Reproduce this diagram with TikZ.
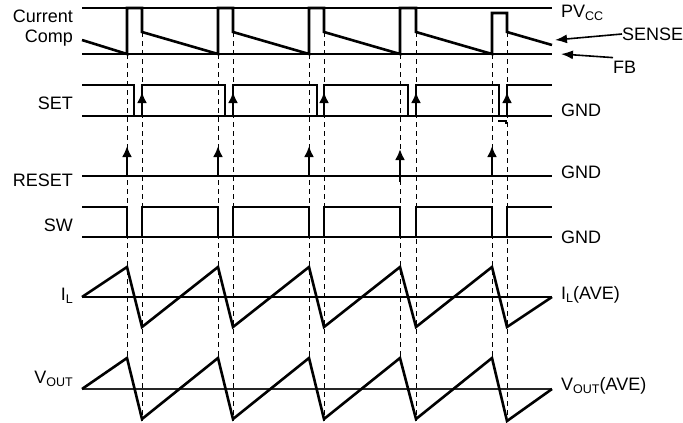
\documentclass[tikz,border=0pt]{standalone}
\usepackage{fontspec}
\setmainfont{Liberation Sans}
\usetikzlibrary{positioning, arrows.meta}
\newcommand{\lowsub}[1]{\raisebox{-0.3ex}{\fontsize{12.5}{12.5}\selectfont #1}}

\begin{document}
\begin{tikzpicture}[
  x=1pt, y=-1pt,
  sig/.style={line width=2.6pt, line join=miter},
  rail/.style={line width=1.2pt},
  edge/.style={line width=1pt, dash pattern=on 5pt off 4pt},
  lbl/.style={font=\fontsize{18}{20}\selectfont, inner sep=0pt},
  kick/.style={line width=2.6pt, -{Latex[length=11pt, width=10pt]}},
  pointer/.style={line width=1.6pt, -{Latex[length=12pt, width=9pt]}}
]
\useasboundingbox (0,0) rectangle (683,423);

% switching edges
\foreach \a/\b in {127/142, 218/233, 309/324, 400/416, 492/507} {
  \draw[edge] (\a,54) -- (\a,358);
  \draw[edge] (\b,32) -- (\b,421);
}

% rails
\draw[rail] (82,8) -- (552,8);
\draw[sig] (82,54) -- (552,54);
\draw[rail] (82,116) -- (552,116);
\draw[sig] (82,176) -- (552,176);
\draw[rail] (82,237) -- (552,237);
\draw[rail] (82,297) -- (552,297);
\draw[line width=1.8pt, black!85] (82,389) -- (552,389);

% current comparator
\draw[sig] (82,40) -- (127,54) -- (127,8) -- (142,8) -- (142,32)
  -- (218,54) -- (218,8) -- (233,8) -- (233,32)
  -- (309,54) -- (309,8) -- (324,8) -- (324,32)
  -- (400,54) -- (400,8) -- (416,8) -- (416,32)
  -- (492,54) -- (492,13) -- (507,13) -- (507,32) -- (552,45);

% set
\draw[sig] (82,85) -- (134,85) -- (134,116) -- (142,116) -- (142,85)
  -- (225,85) -- (225,116) -- (233,116) -- (233,85)
  -- (317,85) -- (317,116) -- (324,116) -- (324,85)
  -- (408,85) -- (408,116) -- (416,116) -- (416,85)
  -- (499,85) -- (499,116) -- (507,116) -- (507,85) -- (552,85);
\draw[line width=2pt] (498,121) -- (506,121) -- (506,124);
\foreach \b in {142, 233, 324, 416, 507}
  \draw[kick] (\b,116) -- (\b,92);

% reset
\foreach \a in {127, 218, 309, 492}
  \draw[kick] (\a,176) -- (\a,146);
\draw[kick] (400,182) -- (400,149);

% sw
\draw[sig] (82,207) -- (127,207) -- (127,237) -- (142,237) -- (142,207)
  -- (218,207) -- (218,237) -- (233,237) -- (233,207)
  -- (309,207) -- (309,237) -- (324,237) -- (324,207)
  -- (400,207) -- (400,237) -- (416,237) -- (416,207)
  -- (492,207) -- (492,237) -- (507,237) -- (507,207) -- (552,207);

% inductor current
\draw[sig] (82,297) -- (127,267) -- (142,327) -- (218,267) -- (233,327)
  -- (309,267) -- (324,327) -- (400,267) -- (416,327)
  -- (492,267) -- (507,327) -- (552,297);

% output voltage
\draw[sig] (82,389) -- (127,358) -- (142,419) -- (218,358) -- (233,419)
  -- (309,358) -- (324,419) -- (400,358) -- (416,419)
  -- (492,358) -- (507,421) -- (552,389);

% left labels
\node[lbl, anchor=east, align=right] (comp) at (73,28) {Current\\Comp};
\node[lbl, anchor=east] (set) at (73,103) {SET};
\node[lbl, anchor=east] (reset) at (73,180) {RESET};
\node[lbl, anchor=east] (sw) at (73,225) {SW};
\node[lbl, anchor=east] (il) at (73,296) {I\lowsub{L}};
\node[lbl, anchor=east] (vout) at (73,379) {V\lowsub{OUT}};

% right labels
\node[lbl, anchor=west] (pvcc) at (561,13) {PV\lowsub{CC}};
\node[lbl, anchor=west] (sense) at (622,34) {SENSE};
\node[lbl, anchor=west] (fb) at (613,67) {FB};
\node[lbl, anchor=west] (gndset) at (561,110) {GND};
\node[lbl, anchor=west] (gndreset) at (561,172) {GND};
\node[lbl, anchor=west] (gndsw) at (561,237) {GND};
\node[lbl, anchor=west] (ilave) at (561,295) {I\lowsub{L}(AVE)};
\node[lbl, anchor=west] (voutave) at (561,386) {V\lowsub{OUT}(AVE)};

\coordinate (sensetip) at (555,40);
\coordinate (fbtip) at (561,54);
\draw[pointer] (sense.west) -- (sensetip);
\draw[pointer] ([yshift=3pt]fb.north west) -- (fbtip);
\end{tikzpicture}
\end{document}
